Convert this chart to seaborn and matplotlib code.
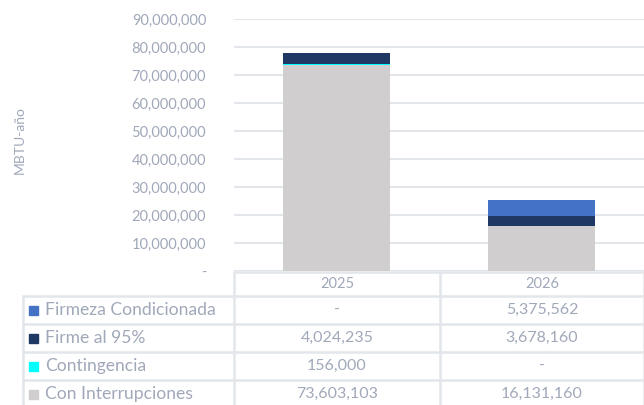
import matplotlib
matplotlib.use("Agg")
import matplotlib.pyplot as plt
import seaborn as sns
import numpy as np
import pandas as pd
from matplotlib.lines import Line2D
from matplotlib.patches import Rectangle

years = ["2025", "2026"]
series_names = ["Firmeza Condicionada", "Firme al 95%", "Contingencia", "Con Interrupciones"]
firmeza_cond = [0, 5375562]
firme_95 = [4024235, 3678160]
contingencia = [156000, 0]
con_interrupciones = [73603103, 16131160]
colors = ["#4472C4", "#1F3864", "#00FFFF", "#D0CECE"]
ytick_vals = [0, 10000000, 20000000, 30000000, 40000000, 50000000, 60000000, 70000000, 80000000, 90000000]

sns.set_theme(style="white")
plt.rcParams['font.family'] = ['Lato', 'DejaVu Sans']
TXT = "#A0A8B9"
LINE = "#E3E6EB"

W, H = 644, 405
fig = plt.figure(figsize=(W / 100, H / 100), dpi=100)
ax_l, ax_r, ax_t, ax_b = 234, 644, 19, 271
ax = fig.add_axes([ax_l / W, 1 - ax_b / H, (ax_r - ax_l) / W, (ax_b - ax_t) / H])

values = [firmeza_cond, firme_95, contingencia, con_interrupciones]
order_bottom_up = [3, 2, 1, 0]
cum = np.zeros(len(years))
cums = {}
for i in order_bottom_up:
    cum = cum + np.array(values[i])
    cums[i] = cum.copy()
for i in [0, 1, 2, 3]:
    df = pd.DataFrame({"year": years, "val": cums[i]})
    sns.barplot(data=df, x="year", y="val", color=colors[i], width=0.52,
                saturation=1, ax=ax, zorder=3, edgecolor="none", linewidth=0)

ax.set_xlim(-0.5, 1.5)
ax.set_ylim(0, 90000000)
ax.set_yticks(ytick_vals)
ax.set_yticklabels(["-" if v == 0 else f"{v:,}" for v in ytick_vals], color=TXT, fontsize=10.5)
ax.set_xticks([])
ax.set_xlabel("")
ax.set_ylabel("")
ax.tick_params(axis="y", length=0, pad=20)
ax.grid(axis="y", color=LINE, linewidth=1.5, zorder=0)
for s in ax.spines.values():
    s.set_visible(False)

fig.text(20 / W, 1 - 140 / H, "MBTU-año", rotation=90, ha="center", va="center",
         color=TXT, fontsize=10)

def fx(x):
    return x / W

def fy(y):
    return 1 - y / H

def hline(x0, x1, y):
    fig.add_artist(Line2D([fx(x0), fx(x1)], [fy(y), fy(y)], color=LINE, linewidth=1.8))

def vline(x, y0, y1):
    fig.add_artist(Line2D([fx(x), fx(x)], [fy(y0), fy(y1)], color=LINE, linewidth=1.8))

col_edges = [23, 234, 440, 644]
row_edges = [296, 324, 352, 380, 408]
hline(234, 644, 271.5)
for y in row_edges:
    hline(23, 644, y)
vline(23, 296, 408)
vline(234, 271.5, 408)
vline(440, 271.5, 408)
vline(643.5, 271.5, 408)

for j, yr in enumerate(years):
    cx = (col_edges[j + 1] + col_edges[j + 2]) / 2
    fig.text(fx(cx), fy(284), yr, ha="center", va="center", color=TXT, fontsize=10.5)

for r, name in enumerate(series_names):
    cy = (row_edges[r] + row_edges[r + 1]) / 2
    fig.add_artist(Rectangle((fx(29), fy(cy + 4.5)), 9 / W, 9 / H, color=colors[r],
                             transform=fig.transFigure))
    fig.text(fx(45), fy(cy), name, ha="left", va="center", color=TXT, fontsize=12.6)
    for j in range(len(years)):
        v = values[r][j]
        cx = (col_edges[j + 1] + col_edges[j + 2]) / 2
        fig.text(fx(cx), fy(cy), "-" if v == 0 else f"{v:,}", ha="center", va="center",
                 color=TXT, fontsize=11.5)

fig.savefig("out.png", dpi=100, facecolor="white")
